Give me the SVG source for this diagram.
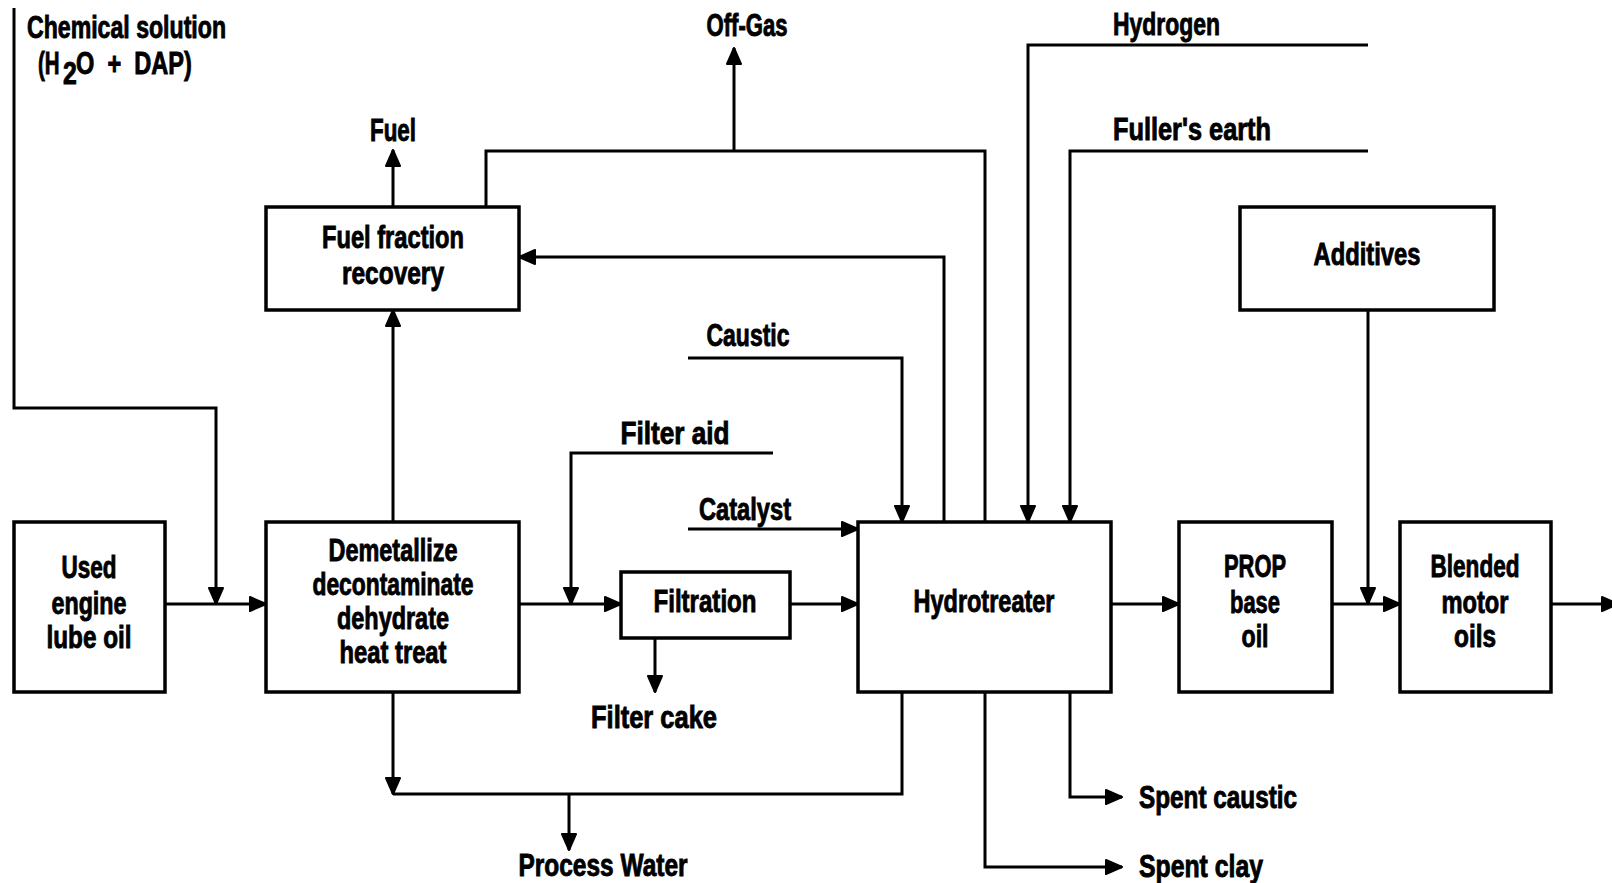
<svg xmlns="http://www.w3.org/2000/svg" width="1612" height="883" viewBox="0 0 1612 883">
<style>
  .bg{fill:#fff}
  .box{fill:#fff;stroke:#000;stroke-width:3.5}
  .ln{fill:none;stroke:#000;stroke-width:3;stroke-linejoin:miter}
  .arr{marker-end:url(#ah)}
  text{font-family:"Liberation Sans","DejaVu Sans",sans-serif;font-weight:bold;font-size:31px;fill:#000;stroke:#000;stroke-width:0.9}
  .c{text-anchor:middle}
</style>
<defs>
  <marker id="ah" viewBox="0 0 18 16" refX="17" refY="8" markerWidth="18" markerHeight="16" markerUnits="userSpaceOnUse" orient="auto">
    <path d="M1,1 L17,8 L1,15 Z" fill="#000" stroke="#000" stroke-width="2" stroke-linejoin="round"/>
  </marker>
</defs>
<rect class="bg" width="1612" height="883"/>

<g id="connectors">
  <path class="ln arr" d="M14,8 V408 H216 V604"/>
  <path class="ln arr" d="M165,604 H266"/>
  <path class="ln arr" d="M393,522 V310"/>
  <path class="ln arr" d="M393,207 V150"/>
  <path class="ln" d="M486,207 V151 H985 V522"/>
  <path class="ln arr" d="M734,151 V48"/>
  <path class="ln arr" d="M944,522 V257 H519"/>
  <path class="ln arr" d="M688,358 H902 V522"/>
  <path class="ln arr" d="M773,453 H571 V604"/>
  <path class="ln arr" d="M688,529 H858"/>
  <path class="ln arr" d="M519,604 H621"/>
  <path class="ln arr" d="M790,604 H858"/>
  <path class="ln arr" d="M655,638 V692"/>
  <path class="ln arr" d="M1368,45 H1028 V522"/>
  <path class="ln arr" d="M1368,151 H1070 V522"/>
  <path class="ln arr" d="M1111,604 H1179"/>
  <path class="ln arr" d="M1332,604 H1400"/>
  <path class="ln arr" d="M1368,310 V604"/>
  <path class="ln arr" d="M1551,604 H1618"/>
  <path class="ln arr" d="M393,692 V794"/>
  <path class="ln" d="M393,794 H902 V692"/>
  <path class="ln arr" d="M569,794 V850"/>
  <path class="ln arr" d="M1070,692 V797 H1122"/>
  <path class="ln arr" d="M985,692 V867 H1122"/>
</g>

<g id="labels">
  <text x="27" y="38" textLength="199" lengthAdjust="spacingAndGlyphs">Chemical solution</text>
  <text transform="translate(38,74) scale(0.66,1)" x="0" y="0">(H</text>
  <text transform="translate(63,84) scale(0.8,1)" x="0" y="0" font-size="22">2</text>
  <text transform="translate(76,74) scale(0.76,1)" x="0" y="0" xml:space="preserve">O  +  DAP)</text>
  <text class="c" x="393" y="141" textLength="46" lengthAdjust="spacingAndGlyphs">Fuel</text>
  <text class="c" x="747" y="36" textLength="81" lengthAdjust="spacingAndGlyphs">Off-Gas</text>
  <text x="1113" y="35" textLength="107" lengthAdjust="spacingAndGlyphs">Hydrogen</text>
  <text x="1113" y="140" textLength="158" lengthAdjust="spacingAndGlyphs">Fuller's  earth</text>
  <text class="c" x="748" y="346" textLength="83" lengthAdjust="spacingAndGlyphs">Caustic</text>
  <text class="c" x="675" y="444" textLength="109" lengthAdjust="spacingAndGlyphs">Filter  aid</text>
  <text class="c" x="745" y="520" textLength="92" lengthAdjust="spacingAndGlyphs">Catalyst</text>
  <text class="c" x="654" y="728" textLength="126" lengthAdjust="spacingAndGlyphs">Filter  cake</text>
  <text class="c" x="603" y="876" textLength="169" lengthAdjust="spacingAndGlyphs">Process  Water</text>
  <text x="1139" y="808" textLength="158" lengthAdjust="spacingAndGlyphs">Spent  caustic</text>
  <text x="1139" y="877" textLength="124" lengthAdjust="spacingAndGlyphs">Spent  clay</text>
</g>

<g id="node-used-oil">
  <rect class="box" x="14" y="522" width="151" height="170"/>
  <text class="c" x="89" y="578" textLength="55" lengthAdjust="spacingAndGlyphs">Used</text>
  <text class="c" x="89" y="614" textLength="75" lengthAdjust="spacingAndGlyphs">engine</text>
  <text class="c" x="89" y="648" textLength="85" lengthAdjust="spacingAndGlyphs">lube oil</text>
</g>

<g id="node-demetallize">
  <rect class="box" x="266" y="522" width="253" height="170"/>
  <text class="c" x="393" y="561" textLength="129" lengthAdjust="spacingAndGlyphs">Demetallize</text>
  <text class="c" x="393" y="595" textLength="161" lengthAdjust="spacingAndGlyphs">decontaminate</text>
  <text class="c" x="393" y="629" textLength="112" lengthAdjust="spacingAndGlyphs">dehydrate</text>
  <text class="c" x="393" y="663" textLength="107" lengthAdjust="spacingAndGlyphs">heat treat</text>
</g>

<g id="node-fuel-fraction">
  <rect class="box" x="266" y="207" width="253" height="103"/>
  <text class="c" x="393" y="248" textLength="142" lengthAdjust="spacingAndGlyphs">Fuel fraction</text>
  <text class="c" x="393" y="284" textLength="102" lengthAdjust="spacingAndGlyphs">recovery</text>
</g>

<g id="node-filtration">
  <rect class="box" x="621" y="572" width="169" height="66"/>
  <text class="c" x="705" y="612" textLength="103" lengthAdjust="spacingAndGlyphs">Filtration</text>
</g>

<g id="node-hydrotreater">
  <rect class="box" x="858" y="522" width="253" height="170"/>
  <text class="c" x="984" y="612" textLength="141" lengthAdjust="spacingAndGlyphs">Hydrotreater</text>
</g>

<g id="node-additives">
  <rect class="box" x="1240" y="207" width="254" height="103"/>
  <text class="c" x="1367" y="265" textLength="107" lengthAdjust="spacingAndGlyphs">Additives</text>
</g>

<g id="node-prop">
  <rect class="box" x="1179" y="522" width="153" height="170"/>
  <text class="c" x="1255" y="577" textLength="62" lengthAdjust="spacingAndGlyphs">PROP</text>
  <text class="c" x="1255" y="613" textLength="50" lengthAdjust="spacingAndGlyphs">base</text>
  <text class="c" x="1255" y="647" textLength="27" lengthAdjust="spacingAndGlyphs">oil</text>
</g>

<g id="node-blended">
  <rect class="box" x="1400" y="522" width="151" height="170"/>
  <text class="c" x="1475" y="577" textLength="89" lengthAdjust="spacingAndGlyphs">Blended</text>
  <text class="c" x="1475" y="613" textLength="67" lengthAdjust="spacingAndGlyphs">motor</text>
  <text class="c" x="1475" y="647" textLength="42" lengthAdjust="spacingAndGlyphs">oils</text>
</g>
</svg>
